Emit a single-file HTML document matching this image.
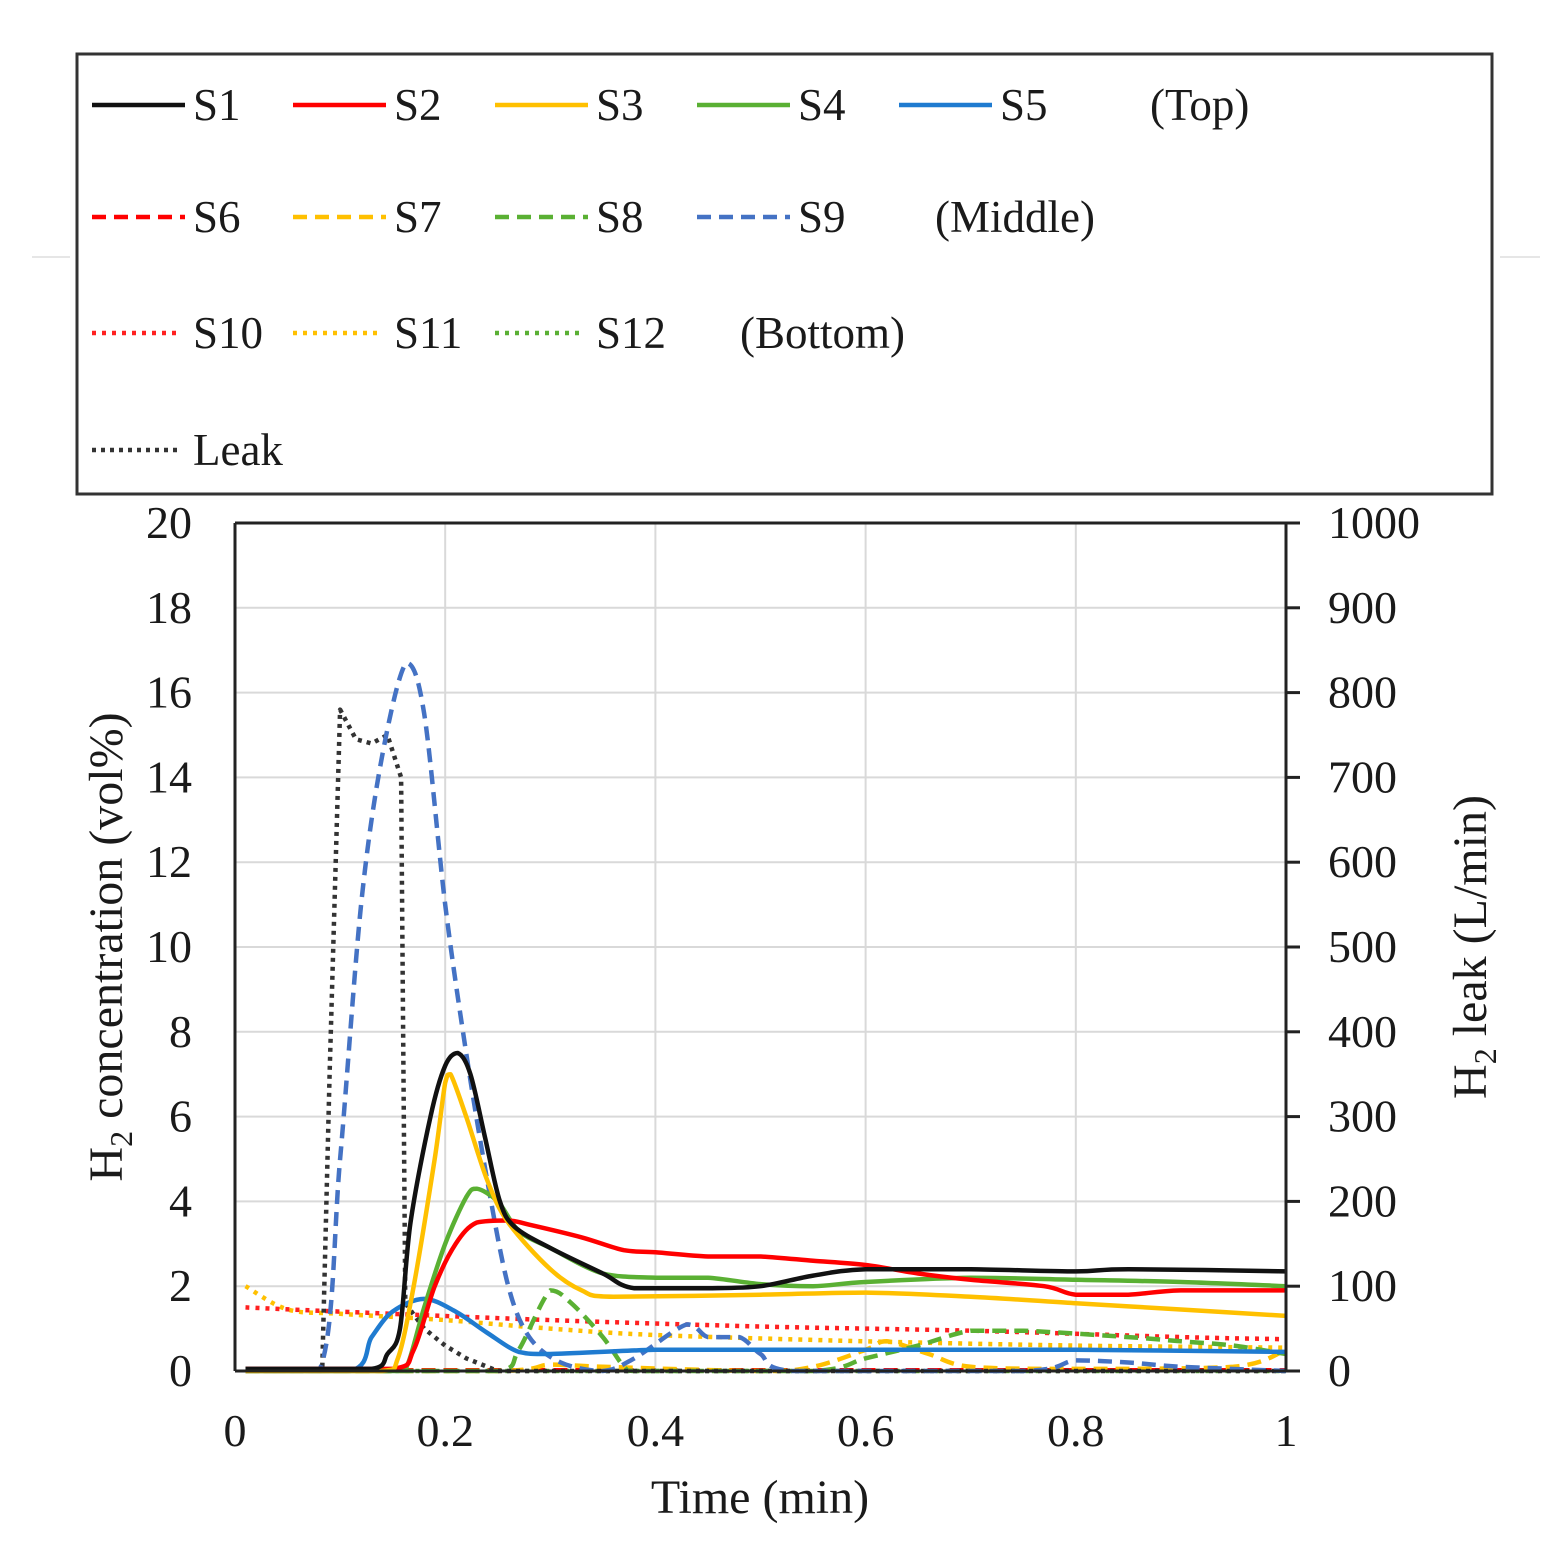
<!DOCTYPE html>
<html><head><meta charset="utf-8"><style>
html,body{margin:0;padding:0;background:#fff}
svg{display:block}
text{font-family:"Liberation Serif",serif;fill:#1a1a1a}
</style></head><body>
<svg id="chart" width="1568" height="1568" viewBox="0 0 1568 1568" xmlns="http://www.w3.org/2000/svg">
<line x1="32" y1="257" x2="70" y2="257" stroke="#ccc" stroke-width="1"/>
<line x1="1500" y1="257" x2="1540" y2="257" stroke="#ccc" stroke-width="1"/>
<g id="legend">
<rect x="77" y="54" width="1415" height="440" fill="#fff" stroke="#333" stroke-width="3"/>
</g>
<g id="grid"></g>
<g id="series"></g>
<g id="axes"></g>
</svg>
<script>
const xTicks=[0,0.2,0.4,0.6,0.8,1];
const xTickLabels=["0","0.2","0.4","0.6","0.8","1"];
const yTicks=[0,2,4,6,8,10,12,14,16,18,20];
const y2Ticks=[0,100,200,300,400,500,600,700,800,900,1000];
const s1=[[0.01,0.05],[0.13,0.05],[0.145,0.4],[0.157,1],[0.167,3.5],[0.186,6],[0.2,7.2],[0.212,7.5],[0.224,7],[0.238,5.5],[0.252,4],[0.266,3.4],[0.3,2.9],[0.35,2.3],[0.38,1.95],[0.45,1.95],[0.5,2.0],[0.55,2.25],[0.6,2.4],[0.7,2.4],[0.8,2.35],[0.85,2.4],[1.0,2.35]];
const s2=[[0.01,0.05],[0.15,0.05],[0.17,0.5],[0.19,2],[0.21,3],[0.23,3.5],[0.26,3.55],[0.28,3.45],[0.33,3.15],[0.37,2.85],[0.4,2.8],[0.45,2.7],[0.5,2.7],[0.55,2.6],[0.6,2.5],[0.65,2.3],[0.7,2.15],[0.77,2.0],[0.8,1.8],[0.85,1.8],[0.9,1.9],[1.0,1.9]];
const s3=[[0.01,0],[0.14,0],[0.155,0.3],[0.17,2],[0.19,5],[0.2,6.8],[0.205,7.0],[0.22,6],[0.24,4.5],[0.26,3.5],[0.3,2.4],[0.33,1.9],[0.36,1.75],[0.5,1.8],[0.6,1.85],[0.7,1.75],[0.8,1.6],[0.9,1.45],[1.0,1.3]];
const s4=[[0.01,0],[0.155,0],[0.165,0.2],[0.18,1.5],[0.2,3],[0.22,4.1],[0.23,4.3],[0.25,4.0],[0.27,3.3],[0.3,2.9],[0.35,2.3],[0.4,2.2],[0.45,2.2],[0.5,2.05],[0.55,2.0],[0.6,2.1],[0.7,2.2],[0.8,2.15],[0.9,2.1],[1.0,2.0]];
const s5=[[0.01,0],[0.11,0],[0.13,0.8],[0.15,1.4],[0.18,1.7],[0.21,1.4],[0.24,0.9],[0.27,0.45],[0.3,0.4],[0.4,0.5],[0.5,0.5],[0.6,0.5],[0.8,0.5],[1.0,0.45]];
const s6=[[0.01,0.02],[1.0,0.02]];
const s7=[[0.01,0],[0.25,0],[0.3,0.15],[0.35,0.1],[0.5,0],[0.55,0.1],[0.6,0.5],[0.62,0.7],[0.66,0.4],[0.7,0.1],[0.8,0.05],[0.95,0.1],[1.0,0.5]];
const s8=[[0.01,0],[0.25,0],[0.27,0.5],[0.3,1.9],[0.32,1.6],[0.35,0.8],[0.37,0.1],[0.38,0],[0.55,0],[0.6,0.3],[0.65,0.6],[0.7,0.95],[0.75,0.95],[0.85,0.8],[0.9,0.7],[0.95,0.6],[1.0,0.4]];
const s9=[[0.01,0],[0.08,0],[0.1,5],[0.12,11],[0.14,14.5],[0.163,16.7],[0.18,15.5],[0.2,11],[0.22,7.5],[0.24,4.5],[0.26,2],[0.28,0.8],[0.31,0.2],[0.35,0],[0.38,0.3],[0.43,1.1],[0.45,0.8],[0.48,0.8],[0.5,0.4],[0.53,0],[0.75,0],[0.8,0.25],[0.85,0.2],[0.9,0.1],[1.0,0]];
const s10=[[0.01,1.5],[0.1,1.4],[0.3,1.2],[0.5,1.05],[0.7,0.95],[0.9,0.8],[1.0,0.75]];
const s11=[[0.01,2.0],[0.05,1.45],[0.1,1.35],[0.2,1.2],[0.3,1.0],[0.4,0.85],[0.6,0.7],[0.8,0.6],[1.0,0.55]];
const s12=[[0.01,0],[1.0,0]];
const leak=[[0.01,0],[0.083,0],[0.09,350],[0.1,780],[0.115,745],[0.13,740],[0.145,750],[0.158,700],[0.162,80],[0.18,50],[0.2,30],[0.22,15],[0.25,0],[1.0,0]];

const X0=235,X1=1286,Y0=1371,Y1=523;
const xs=t=>X0+t*(X1-X0);
const ys=v=>Y0-v/20*(Y0-Y1);
const ys2=v=>Y0-v/1000*(Y0-Y1);
const NS="http://www.w3.org/2000/svg";
function mk(tag,attrs,parent,txt){const e=document.createElementNS(NS,tag);for(const k in attrs)e.setAttribute(k,attrs[k]);if(txt!==undefined)e.textContent=txt;parent.appendChild(e);return e;}
const grid=document.getElementById('grid'),ser=document.getElementById('series'),axes=document.getElementById('axes'),leg=document.getElementById('legend');
mk('rect',{x:X0,y:Y1,width:X1-X0,height:Y0-Y1,fill:'#fff'},grid);
yTicks.forEach(v=>{if(v>0&&v<20){const l=mk('line',{x1:X0,x2:X1,y1:ys(v),y2:ys(v),stroke:'#d9d9d9','stroke-width':2},grid);

}});
xTicks.forEach(t=>{if(t>0&&t<1){const l=mk('line',{x1:xs(t),x2:xs(t),y1:Y1,y2:Y0,stroke:'#d9d9d9','stroke-width':2},grid);

}});
const styles={
s1:['#111',''],s2:['#ff0000',''],s3:['#ffc000',''],s4:['#5ab033',''],s5:['#1f7bd0',''],
s6:['#ff0000','14 8'],s7:['#ffc000','14 8'],s8:['#5ab033','14 8'],s9:['#4472c4','14 8'],
s10:['#ff2020','4 6'],s11:['#ffc000','4 6'],s12:['#5ab033','4 6'],leak:['#333','4 5']};
const data={s1,s2,s3,s4,s5,s6,s7,s8,s9,s10,s11,s12,leak};
function clampc(c,a,b){const lo=Math.min(a[1],b[1]),hi=Math.max(a[1],b[1]);const dx=b[0]-a[0];
return [Math.min(Math.max(c[0],a[0]),a[0]+dx),Math.min(Math.max(c[1],lo),hi)];}
function path(pts,yf,smooth){
  const P=pts.map(p=>[xs(p[0]),yf(p[1])]);
  if(!smooth) return P.map((p,i)=>(i?'L':'M')+p[0].toFixed(1)+','+p[1].toFixed(1)).join('');
  let d='M'+P[0][0].toFixed(1)+','+P[0][1].toFixed(1);
  const k=0.16;
  for(let i=0;i<P.length-1;i++){
    const p0=P[Math.max(0,i-1)],p1=P[i],p2=P[i+1],p3=P[Math.min(P.length-1,i+2)];
    let c1=[p1[0]+(p2[0]-p0[0])*k,p1[1]+(p2[1]-p0[1])*k];
    let c2=[p2[0]-(p3[0]-p1[0])*k,p2[1]-(p3[1]-p1[1])*k];
    c1=clampc(c1,p1,p2);c2=clampc(c2,p1,p2);
    d+='C'+c1[0].toFixed(1)+','+c1[1].toFixed(1)+' '+c2[0].toFixed(1)+','+c2[1].toFixed(1)+' '+p2[0].toFixed(1)+','+p2[1].toFixed(1);
  }
  return d;
}
['s12','s11','s10','s6','s7','s8','leak','s9','s5','s4','s2','s3','s1'].forEach(k=>{
const [c,d]=styles[k];
const p=mk('path',{d:path(data[k],k==='leak'?ys2:ys,k!=='leak'),fill:'none',stroke:c,'stroke-width':4.5,'stroke-dasharray':d,'stroke-linejoin':'round'},ser);


});
mk('line',{x1:X0,y1:Y1,x2:X0,y2:Y0,stroke:'#222','stroke-width':3},axes);
mk('line',{x1:X1,y1:Y1,x2:X1,y2:Y0,stroke:'#222','stroke-width':3},axes);
mk('line',{x1:X0,y1:Y0,x2:X1,y2:Y0,stroke:'#222','stroke-width':3},axes);
mk('line',{x1:X0,y1:Y1,x2:X1,y2:Y1,stroke:'#222','stroke-width':3},axes);
yTicks.forEach(v=>{const t=mk('text',{x:192,y:ys(v)+15,'text-anchor':'end','font-size':46},axes,String(v));

});
y2Ticks.forEach(v=>{mk('line',{x1:X1,x2:X1+14,y1:ys2(v),y2:ys2(v),stroke:'#222','stroke-width':3},axes);
const t=mk('text',{x:1328,y:ys2(v)+15,'font-size':46},axes,String(v));

});
xTicks.forEach((v,i)=>{const t=mk('text',{x:xs(v),y:1446,'text-anchor':'middle','font-size':46},axes,xTickLabels[i]);

});
let t;
t=mk('text',{x:760,y:1513,'text-anchor':'middle','font-size':48},axes,'Time (min)');


t=mk('text',{transform:'translate(122,947) rotate(-90)','text-anchor':'middle','font-size':48},axes);


t.innerHTML='H<tspan font-size="32" dy="10">2</tspan><tspan dy="-10"> concentration (vol%)</tspan>';
t=mk('text',{transform:'translate(1486,947) rotate(-90)','text-anchor':'middle','font-size':48},axes);


t.innerHTML='H<tspan font-size="32" dy="10">2</tspan><tspan dy="-10"> leak (L/min)</tspan>';
const rows=[[['s1','S1'],['s2','S2'],['s3','S3'],['s4','S4'],['s5','S5']],[['s6','S6'],['s7','S7'],['s8','S8'],['s9','S9']],[['s10','S10'],['s11','S11'],['s12','S12']],[['leak','Leak']]];
const rowY=[105,217,333,450],colX=[92,293,495,697,899];
const grp=[['(Top)',1150],['(Middle)',935],['(Bottom)',740]];
rows.forEach((r,ri)=>{r.forEach((e,ci)=>{const [c,d]=styles[e[0]];
const x=colX[ci],y=rowY[ri];
const l=mk('line',{x1:x,x2:x+(d==='4 6'||d==='4 5'?90:93),y1:y,y2:y,stroke:c,'stroke-width':4.5,'stroke-dasharray':d},leg);


const tx=mk('text',{x:x+101,y:y+15,'font-size':45},leg,e[1]);

});
if(grp[ri]){const g=mk('text',{x:grp[ri][1],y:rowY[ri]+15,'font-size':45},leg,grp[ri][0]);

}});
</script>
</body></html>
